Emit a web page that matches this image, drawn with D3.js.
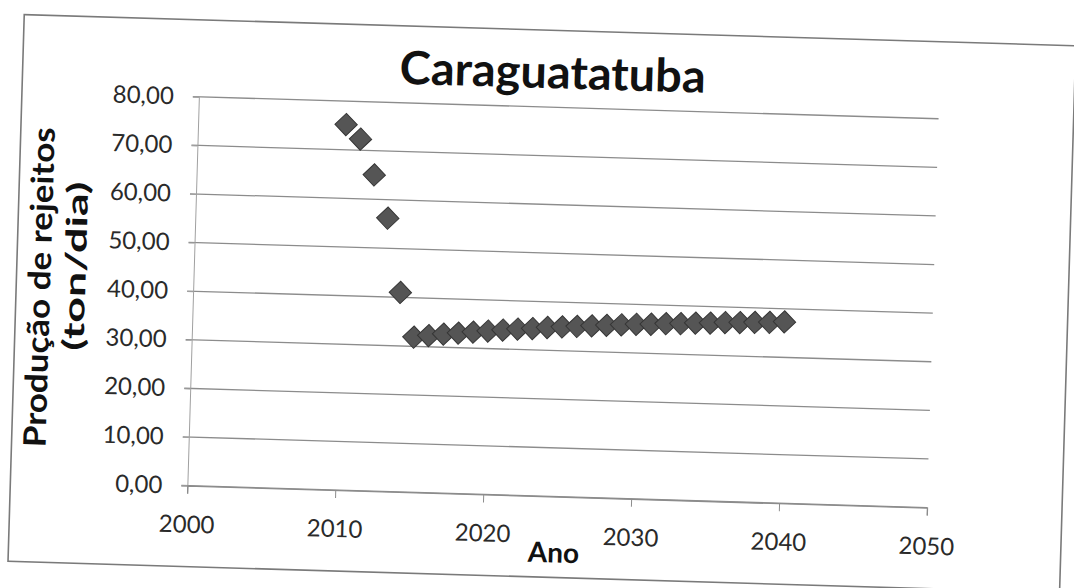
<!DOCTYPE html>
<html>
<head>
<meta charset="utf-8">
<script src="https://cdn.jsdelivr.net/npm/d3@7"></script>
<style>
    body { margin: 0; background: #fff; }
    svg { display: block; }
</style>
</head>
<body>
<svg id="chartSVG" width="1074" height="588"></svg>
<script>
// dados (Caraguatatuba)
const anos = [2010, 2011, 2012, 2013, 2014, 2015, 2016, 2017, 2018, 2019, 2020,
    2021, 2022, 2023, 2024, 2025, 2026, 2027, 2028, 2029, 2030,
    2031, 2032, 2033, 2034, 2035, 2036, 2037, 2038, 2039, 2040];
const rejeitos = [75.2, 72.3, 65.0, 56.2, 41.0, 31.9, 32.3, 32.7, 33.0, 33.3, 33.6,
    33.9, 34.2, 34.4, 34.7, 34.9, 35.1, 35.3, 35.5, 35.7, 35.9,
    36.0, 36.2, 36.3, 36.5, 36.6, 36.8, 36.9, 37.0, 37.1, 37.3];
const xTicks = [2000, 2010, 2020, 2030, 2040, 2050];
const yTicks = [0, 10, 20, 30, 40, 50, 60, 70, 80];
const titulo = "Caraguatatuba";
const tituloY = ["Produção de rejeitos", "(ton/dia)"];
const tituloX = "Ano";

function drawChart(id) {
    const svg = d3.select(id);

    svg.append("rect").attr("width", 1074).attr("height", 588).attr("fill", "#fff");

    // a folha foi escaneada um pouco torta
    const g = svg.append("g").attr("transform", "rotate(1.7,540,300)");

    g.append("rect")
        .attr("x", 16).attr("y", 30)
        .attr("width", 1052).attr("height", 547)
        .attr("fill", "none")
        .attr("stroke", "#7a7a7a")
        .attr("stroke-width", 1.6);

    const x = d3.scaleLinear().domain([2000, 2050]).range([193, 933]);
    const y = d3.scaleLinear().domain([0, 80]).range([496, 107]);

    const fmt = v => d3.format(".2f")(v).replace(".", ",");

    // grade horizontal
    g.append("g")
        .selectAll("line")
        .data(yTicks)
        .join("line")
        .attr("x1", x(2000) - 6)
        .attr("x2", x(2050))
        .attr("y1", d => y(d))
        .attr("y2", d => y(d))
        .attr("stroke", "#8c8c8c")
        .attr("stroke-width", 1.3);

    const yAxis = g.append("g")
        .attr("transform", `translate(${x(2000)},0)`)
        .call(d3.axisLeft(y).tickValues(yTicks).tickFormat(fmt).tickSize(6).tickPadding(19));
    yAxis.select(".domain").attr("stroke", "#a0a0a0");
    yAxis.selectAll(".tick line").attr("stroke", "#a0a0a0");
    yAxis.selectAll("text")
        .attr("font-family", "Lato")
        .attr("font-size", 24)
        .attr("fill", "#2a2a2a");

    const xAxis = g.append("g")
        .attr("transform", `translate(0,${y(0)})`)
        .call(d3.axisBottom(x).tickValues(xTicks).tickFormat(d3.format("d")).tickSize(8).tickPadding(22));
    xAxis.select(".domain").attr("stroke", "#8c8c8c").attr("stroke-width", 1.3);
    xAxis.selectAll(".tick line").attr("stroke", "#8c8c8c");
    xAxis.selectAll("text")
        .attr("font-family", "Lato")
        .attr("font-size", 24)
        .attr("fill", "#2a2a2a");

    // pontos (losangos)
    const diamond = d3.symbol().type(d3.symbolSquare).size(250);
    g.append("g")
        .selectAll("path")
        .data(anos.map((a, i) => ({ano: a, valor: rejeitos[i]})))
        .join("path")
        .attr("d", diamond)
        .attr("transform", d => `translate(${x(d.ano)},${y(d.valor)}) rotate(45)`)
        .attr("fill", "#555")
        .attr("stroke", "#363636")
        .attr("stroke-width", 1);

    g.append("text")
        .attr("x", 546).attr("y", 88)
        .attr("text-anchor", "middle")
        .attr("font-family", "Lato")
        .attr("font-weight", "bold")
        .attr("font-size", 46)
        .attr("textLength", 306)
        .attr("lengthAdjust", "spacingAndGlyphs")
        .attr("fill", "#111")
        .text(titulo);

    g.append("text")
        .attr("transform", "translate(50,302) rotate(-90)")
        .attr("text-anchor", "middle")
        .attr("font-family", "Lato")
        .attr("font-weight", "bold")
        .attr("font-size", 31)
        .attr("textLength", 320)
        .attr("lengthAdjust", "spacingAndGlyphs")
        .attr("fill", "#111")
        .text(tituloY[0]);

    g.append("text")
        .attr("transform", "translate(85,280) rotate(-90)")
        .attr("text-anchor", "middle")
        .attr("font-family", "Lato")
        .attr("font-weight", "bold")
        .attr("font-size", 29)
        .attr("textLength", 169)
        .attr("lengthAdjust", "spacingAndGlyphs")
        .attr("fill", "#111")
        .text(tituloY[1]);

    g.append("text")
        .attr("x", 561).attr("y", 562)
        .attr("text-anchor", "middle")
        .attr("font-family", "Lato")
        .attr("font-weight", "bold")
        .attr("font-size", 28)
        .attr("fill", "#111")
        .text(tituloX);
}

drawChart("#chartSVG");
</script>
</body>
</html>
